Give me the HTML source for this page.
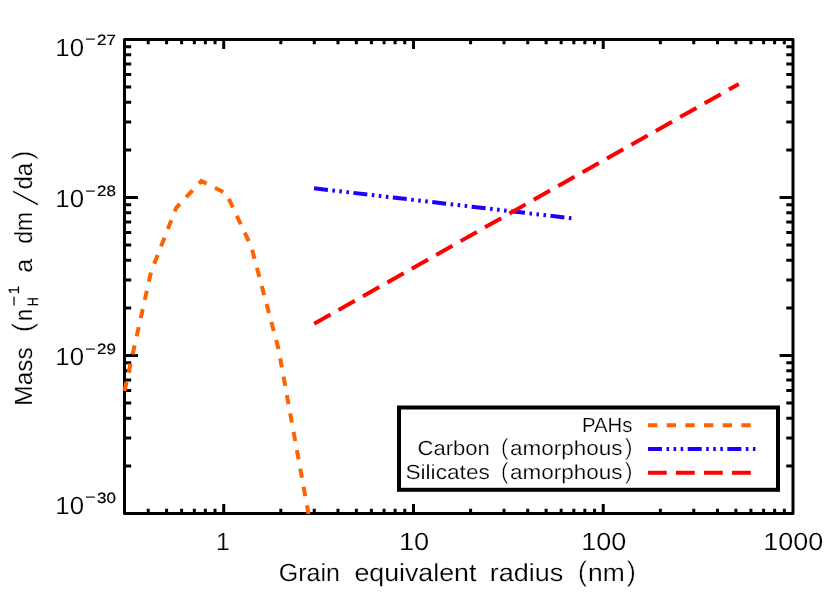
<!DOCTYPE html>
<html><head><meta charset="utf-8"><title>Dust mass distribution</title>
<style>
html,body{margin:0;padding:0;background:#fff;}
svg{display:block;}
text{font-family:"Liberation Sans",sans-serif;fill:#000;text-rendering:geometricPrecision;}
.m{stroke:#fff;stroke-width:0.2px;}
.s{stroke:#000;stroke-width:0.2px;}
.p{stroke:#fff;stroke-width:0.6px;}
.sl{stroke:#fff;stroke-width:1px;}
svg{will-change:transform;}
</style></head>
<body>
<svg width="830" height="593" viewBox="0 0 830 593">
<rect x="0" y="0" width="830" height="593" fill="#ffffff"/>
<path d="M124.50 513.50v-4.75M124.50 39.50v4.75M148.21 513.50v-4.75M148.21 39.50v4.75M166.60 513.50v-4.75M166.60 39.50v4.75M181.62 513.50v-4.75M181.62 39.50v4.75M194.33 513.50v-4.75M194.33 39.50v4.75M205.33 513.50v-4.75M205.33 39.50v4.75M215.04 513.50v-4.75M215.04 39.50v4.75M223.72 513.50v-9.50M223.72 39.50v9.50M280.84 513.50v-4.75M280.84 39.50v4.75M314.26 513.50v-4.75M314.26 39.50v4.75M337.97 513.50v-4.75M337.97 39.50v4.75M356.36 513.50v-4.75M356.36 39.50v4.75M371.38 513.50v-4.75M371.38 39.50v4.75M384.09 513.50v-4.75M384.09 39.50v4.75M395.09 513.50v-4.75M395.09 39.50v4.75M404.80 513.50v-4.75M404.80 39.50v4.75M413.48 513.50v-9.50M413.48 39.50v9.50M470.60 513.50v-4.75M470.60 39.50v4.75M504.02 513.50v-4.75M504.02 39.50v4.75M527.73 513.50v-4.75M527.73 39.50v4.75M546.12 513.50v-4.75M546.12 39.50v4.75M561.14 513.50v-4.75M561.14 39.50v4.75M573.85 513.50v-4.75M573.85 39.50v4.75M584.85 513.50v-4.75M584.85 39.50v4.75M594.56 513.50v-4.75M594.56 39.50v4.75M603.24 513.50v-9.50M603.24 39.50v9.50M660.36 513.50v-4.75M660.36 39.50v4.75M693.78 513.50v-4.75M693.78 39.50v4.75M717.49 513.50v-4.75M717.49 39.50v4.75M735.88 513.50v-4.75M735.88 39.50v4.75M750.90 513.50v-4.75M750.90 39.50v4.75M763.61 513.50v-4.75M763.61 39.50v4.75M774.61 513.50v-4.75M774.61 39.50v4.75M784.32 513.50v-4.75M784.32 39.50v4.75M124.50 513.50h13.40M793.00 513.50h-13.40M124.50 465.94h6.70M793.00 465.94h-6.70M124.50 438.11h6.70M793.00 438.11h-6.70M124.50 418.37h6.70M793.00 418.37h-6.70M124.50 403.06h6.70M793.00 403.06h-6.70M124.50 390.55h6.70M793.00 390.55h-6.70M124.50 379.97h6.70M793.00 379.97h-6.70M124.50 370.81h6.70M793.00 370.81h-6.70M124.50 362.73h6.70M793.00 362.73h-6.70M124.50 355.50h13.40M793.00 355.50h-13.40M124.50 307.94h6.70M793.00 307.94h-6.70M124.50 280.11h6.70M793.00 280.11h-6.70M124.50 260.37h6.70M793.00 260.37h-6.70M124.50 245.06h6.70M793.00 245.06h-6.70M124.50 232.55h6.70M793.00 232.55h-6.70M124.50 221.97h6.70M793.00 221.97h-6.70M124.50 212.81h6.70M793.00 212.81h-6.70M124.50 204.73h6.70M793.00 204.73h-6.70M124.50 197.50h13.40M793.00 197.50h-13.40M124.50 149.94h6.70M793.00 149.94h-6.70M124.50 122.11h6.70M793.00 122.11h-6.70M124.50 102.37h6.70M793.00 102.37h-6.70M124.50 87.06h6.70M793.00 87.06h-6.70M124.50 74.55h6.70M793.00 74.55h-6.70M124.50 63.97h6.70M793.00 63.97h-6.70M124.50 54.81h6.70M793.00 54.81h-6.70M124.50 46.73h6.70M793.00 46.73h-6.70" stroke="#000" stroke-width="3" fill="none"/>
<rect x="124.5" y="39.5" width="668.5" height="474.0" fill="none" stroke="#000" stroke-width="3" stroke-linejoin="round"/>
<polyline points="124.5,391 151,272 176.2,207.8 201.3,181 226.3,193.5 251.3,246.6 278.5,349 308.5,514" fill="none" stroke="#ff6200" stroke-width="4" stroke-dasharray="9.34 9.34"/>
<line x1="314.0" y1="188.3" x2="573.5" y2="218.5" stroke="#1c00ff" stroke-width="4" stroke-dasharray="14.01 4.49 2.57 4.49 2.57 4.49 2.57 4.49"/>
<line x1="314.2" y1="323.8" x2="738.8" y2="84.0" stroke="#ff0000" stroke-width="4" stroke-dasharray="18.68 9.34"/>
<rect x="399" y="407.5" width="379" height="82.3" fill="#fff" stroke="#000" stroke-width="4"/>
<line x1="648" y1="425.3" x2="751.2" y2="425.3" stroke="#ff6200" stroke-width="4" stroke-dasharray="9.34 9.34"/>
<line x1="648" y1="449.0" x2="755.8" y2="449.0" stroke="#1c00ff" stroke-width="4" stroke-dasharray="14.01 4.49 2.57 4.49 2.57 4.49 2.57 4.49"/>
<line x1="648" y1="472.8" x2="751.2" y2="472.8" stroke="#ff0000" stroke-width="4" stroke-dasharray="18.68 9.34"/>
<text x="581.9" y="431.5" font-size="20.5" textLength="50.4" lengthAdjust="spacingAndGlyphs" class="m">PAHs</text>
<text x="417.5" y="455.1" font-size="20.5" textLength="72.4" lengthAdjust="spacingAndGlyphs" class="m">Carbon</text>
<text x="504.6" y="455.4" font-size="23.6" text-anchor="middle" class="p">(</text>
<text x="510.1" y="455.1" font-size="20.5" textLength="112.4" lengthAdjust="spacingAndGlyphs" class="m">amorphous</text>
<text x="628.7" y="455.4" font-size="23.6" text-anchor="middle" class="p">)</text>
<text x="405.4" y="478.8" font-size="20.5" textLength="84.5" lengthAdjust="spacingAndGlyphs" class="m">Silicates</text>
<text x="504.6" y="479.1" font-size="23.6" text-anchor="middle" class="p">(</text>
<text x="510.1" y="478.8" font-size="20.5" textLength="112.4" lengthAdjust="spacingAndGlyphs" class="m">amorphous</text>
<text x="628.7" y="479.1" font-size="23.6" text-anchor="middle" class="p">)</text>
<text x="55.3" y="55.8" font-size="24.8" textLength="28.7" lengthAdjust="spacingAndGlyphs" class="m">10</text>
<text x="85.2" y="44.2" font-size="14.9" textLength="10.3" lengthAdjust="spacingAndGlyphs" class="s">&#8722;</text>
<text x="97.1" y="44.7" font-size="14.9" textLength="18.9" lengthAdjust="spacingAndGlyphs" class="s">27</text>
<text x="55.3" y="207.1" font-size="24.8" textLength="28.7" lengthAdjust="spacingAndGlyphs" class="m">10</text>
<text x="85.2" y="195.5" font-size="14.9" textLength="10.3" lengthAdjust="spacingAndGlyphs" class="s">&#8722;</text>
<text x="97.1" y="196.0" font-size="14.9" textLength="18.9" lengthAdjust="spacingAndGlyphs" class="s">28</text>
<text x="55.3" y="365.2" font-size="24.8" textLength="28.7" lengthAdjust="spacingAndGlyphs" class="m">10</text>
<text x="85.2" y="353.6" font-size="14.9" textLength="10.3" lengthAdjust="spacingAndGlyphs" class="s">&#8722;</text>
<text x="97.1" y="354.1" font-size="14.9" textLength="18.9" lengthAdjust="spacingAndGlyphs" class="s">29</text>
<text x="55.3" y="513.9" font-size="24.8" textLength="28.7" lengthAdjust="spacingAndGlyphs" class="m">10</text>
<text x="85.2" y="502.3" font-size="14.9" textLength="10.3" lengthAdjust="spacingAndGlyphs" class="s">&#8722;</text>
<text x="97.1" y="502.8" font-size="14.9" textLength="18.9" lengthAdjust="spacingAndGlyphs" class="s">30</text>
<text x="222.9" y="549.7" font-size="24.8" text-anchor="middle" class="m">1</text>
<text x="399.0" y="549.7" font-size="24.8" textLength="30.2" lengthAdjust="spacingAndGlyphs" class="m">10</text>
<text x="581.3" y="549.7" font-size="24.8" textLength="45.0" lengthAdjust="spacingAndGlyphs" class="m">100</text>
<text x="763.3" y="549.7" font-size="24.8" textLength="59.9" lengthAdjust="spacingAndGlyphs" class="m">1000</text>
<text x="278.8" y="580.7" font-size="24.8" textLength="61.1" lengthAdjust="spacingAndGlyphs" class="m">Grain</text>
<text x="354.4" y="580.7" font-size="24.8" textLength="122.0" lengthAdjust="spacingAndGlyphs" class="m">equivalent</text>
<text x="489.7" y="580.7" font-size="24.8" textLength="73.7" lengthAdjust="spacingAndGlyphs" class="m">radius</text>
<text x="582.6" y="581.0" font-size="28.6" text-anchor="middle" class="p">(</text>
<text x="588.0" y="580.7" font-size="24.8" textLength="36.7" lengthAdjust="spacingAndGlyphs" class="m">nm</text>
<text x="631.2" y="581.0" font-size="28.6" text-anchor="middle" class="p">)</text>
<g transform="translate(32,404.2) rotate(-90)">
<text x="-1.5" y="0.0" font-size="24.8" textLength="58.4" lengthAdjust="spacingAndGlyphs" class="m">Mass</text>
<text x="76.8" y="0.3" font-size="28.6" text-anchor="middle" class="p">(</text>
<text x="83.2" y="0.0" font-size="24.8" textLength="12.1" lengthAdjust="spacingAndGlyphs" class="m">n</text>
<text x="97.9" y="5.7" font-size="14.9" textLength="8.9" lengthAdjust="spacingAndGlyphs" class="s">H</text>
<text x="98.3" y="-13.3" font-size="14.9" textLength="10.1" lengthAdjust="spacingAndGlyphs" class="s">&#8722;</text>
<text x="114.2" y="-13.1" font-size="14.9" text-anchor="middle" class="s">1</text>
<text x="131.4" y="0.0" font-size="24.8" textLength="14.1" lengthAdjust="spacingAndGlyphs" class="m">a</text>
<text x="160.4" y="0.0" font-size="24.8" textLength="31.8" lengthAdjust="spacingAndGlyphs" class="m">dm</text>
<text transform="translate(198.2,5.6) skewX(-14.4)" font-size="35" class="sl">/</text>
<text x="214.7" y="0.0" font-size="24.8" textLength="26.7" lengthAdjust="spacingAndGlyphs" class="m">da</text>
<text x="249.0" y="0.3" font-size="28.6" text-anchor="middle" class="p">)</text>
</g>
</svg>
</body></html>
